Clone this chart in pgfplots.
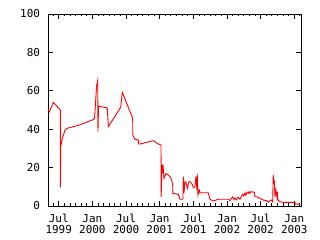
\documentclass[border=0pt]{standalone}
\usepackage{fontspec}
\setmainfont{DejaVu Sans Mono}
\usepackage{pgfplots}
\pgfplotsset{compat=1.18}
\begin{document}
\begin{tikzpicture}
\path[use as bounding box] (0bp,0bp) rectangle (320bp,240bp);
\begin{axis}[at={(48bp,34bp)}, anchor=south west, scale only axis,
  width=253bp, height=192bp,
  xmin=4.09, xmax=49.2, ymin=0, ymax=100,
  xtick={6,12,18,24,30,36,42,48},
  xticklabels={Jul\\1999,Jan\\2000,Jul\\2000,Jan\\2001,Jul\\2001,Jan\\2002,Jul\\2002,Jan\\2003},
  minor xtick={5,...,49},
  ytick={0,20,...,100},
  tick align=inside, tick pos=both,
  major tick length=5bp, minor tick length=2.5bp,
  axis line style={line width=0.8bp},
  every tick/.style={black, line width=0.8bp},
  tick label style={font=\fontsize{11}{11}\selectfont},
  xticklabel style={align=center, yshift=-5bp},
  yticklabel style={xshift=-4.5bp},
  /pgf/number format/assume math mode=true,
]
\addplot[red, line width=0.9bp, mark=none] coordinates {
(4.09,50.4) (4.32,49) (5.04,54) (6.29,50) (6.30,9.7) (6.35,31) (6.64,35)
(7.12,39.6) (7.53,40.5) (9.5,42) (12.17,45) (12.4,46) (12.55,53) (12.75,62.5)
(12.95,65.3) (13.0,38.7) (13.1,52) (14.1,51.4) (14.66,51) (14.84,41.3)
(17.05,51.4) (17.34,59.2) (19.19,45.7) (19.2,37) (19.6,34.7) (20.19,34.4)
(20.2,32.3) (20.49,32.3) (22.86,34) (23.75,32.3) (24.24,31.8) (24.27,4.8)
(24.4,21.4) (24.5,17) (24.6,21.4) (24.77,14.4) (25.13,17) (25.84,15.3)
(26.14,13.5) (26.32,10.9) (26.35,6.6) (27.32,6.1) (27.62,3.5) (28.1,3.5)
(28.16,4.5) (28.21,15.3) (28.33,6.6) (28.51,12.7) (28.69,12.1) (28.99,9.2)
(29.14,12.5) (29.4,12.7) (29.71,11.8) (29.99,9.7) (30.3,9.9) (30.47,15.3)
(30.65,8.3) (30.7,16.7) (30.83,5.7) (31.06,8.3) (31.19,6.9) (32.67,6.9)
(32.97,3.5) (33.56,2.6) (34.45,3.5) (36.23,3.5) (36.53,2.8) (37.02,4.8)
(37.25,3.5) (37.43,4.2) (37.61,3.1) (37.96,4.5) (38.32,3.5) (38.44,4.3)
(38.8,6.1) (39.03,5.2) (39.21,6.9) (39.39,5.7) (39.57,7.1) (39.8,6.6)
(39.92,7.5) (40.1,6.6) (40.28,7.5) (40.87,7.1) (40.99,4.8) (41.29,4.8)
(41.88,4) (42.47,3.1) (43.08,2.8) (43.36,1.9) (43.66,2.6) (43.97,3.1)
(44.15,2.2) (44.25,16.1) (44.38,11.8) (44.43,13.5) (44.56,4.8) (44.73,8.3)
(44.91,4.8) (44.96,7.5) (45.09,3.1) (45.45,2.2) (46.04,1.9) (48.12,1.9)
(48.18,1.0) (49.01,1.0)
};
\end{axis}
\end{tikzpicture}
\end{document}
